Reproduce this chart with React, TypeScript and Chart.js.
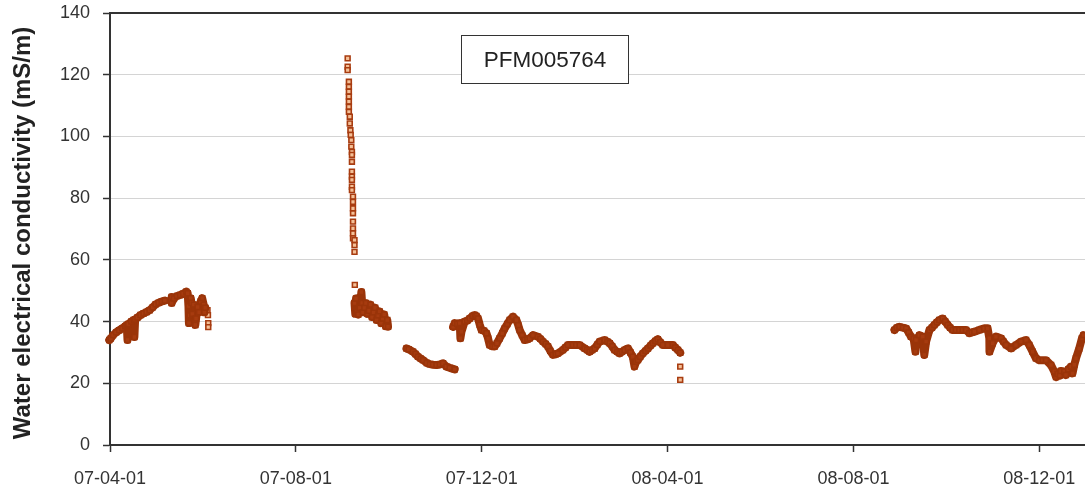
import React, { useEffect, useRef } from 'react';
import { Chart, registerables } from 'chart.js';

Chart.register(...registerables);

// ---- axis ticks (days counted from 07-04-01) ----
const tickDays = [0, 122, 244, 366, 488, 610];
const tickLabels = ['07-04-01', '07-08-01', '07-12-01', '08-04-01', '08-08-01', '08-12-01'];
const xMin = 0;
const xMax = 640;
const yMin = 0;
const yMax = 140;
const yStep = 20;
const yTitle = 'Water electrical conductivity (mS/m)';
const boxTitle = 'PFM005764';

// ---- continuous logger segments ----
const seg1aDays = [-1, -0.5, 0.5, 2, 4, 6, 8, 10, 11, 11.5, 12, 14, 15.5, 16, 16.5, 18, 20, 22, 24, 26, 28, 30, 32, 34, 36];
const seg1aVals = [30.8, 34, 34.5, 35.6, 36.5, 37.2, 37.8, 38.5, 38.9, 34, 39.2, 40, 40.5, 35, 40.7, 41.3, 42.1, 42.6, 43.1, 43.7, 44.6, 45.6, 46.1, 46.5, 46.8];

const seg1bDays = [40.5, 40.5, 42, 44, 46, 48, 50, 51, 51.5, 51.8, 52.3, 53, 53.5, 54, 55, 55.5, 56, 56.5, 57.5, 58.5, 59.5, 60.5, 61.5, 62, 62.5];
const seg1bVals = [48, 46, 47.5, 48.3, 48.6, 49, 49.7, 49.2, 45, 39.5, 42, 47.6, 46, 42.5, 45.5, 40, 38.9, 41, 44.7, 43, 46.5, 47.6, 45.5, 43, 44.5];

const seg2Days = [160.5, 161, 161.5, 162, 163, 164, 165, 165.5, 166, 167, 168, 169, 170, 171, 172, 173, 174, 175, 176, 177, 178, 179, 180, 181, 182, 182.5];
const seg2Vals = [46, 42.5, 47.5, 43, 42.3, 44.5, 49.6, 46, 43, 44.5, 46, 42.5, 43.5, 45.5, 41.5, 43, 44.5, 40.5, 42, 43.3, 39.5, 41, 42.3, 38.5, 40.5, 38.3];

const seg3aDays = [194.6, 196, 198.9, 200.5, 202.2, 204, 205.5, 208, 210, 212, 214.3, 216.5, 218.6, 220.8, 223, 226.3];
const seg3aVals = [31.3, 31, 30.2, 29.5, 28.6, 28, 27.5, 26.6, 26.2, 26, 25.9, 26.1, 26.5, 25.4, 25, 24.5];

const seg3bDays = [225.2, 226.3, 228, 229.6, 230, 230.7, 232.8, 234.5, 236.1, 238, 239.4, 240.5, 241.6, 242.7, 243.8, 245.5, 247.1, 248.2, 249.2, 251, 252.5, 254, 255.8, 257.5, 259.1, 260.8, 262.4, 264.5, 266.8, 268, 268.9, 270.5, 272.2, 274, 275.5, 277.7, 280.9, 282.5, 284.2, 286, 287.5, 289, 290.8, 292.5, 294, 297.3, 299, 300.6, 303.9, 306, 308.3, 311.6, 313.2, 314.8, 316.5, 318.1, 319.8, 321.4, 324.7, 326.5, 328, 329.6, 331.2, 333, 334.5, 336, 337.8, 340, 341.6, 343.2, 344.3, 345.3, 346.5, 348, 349.8, 351.5, 353.1, 354.8, 356.4, 358, 359.6, 361.2, 362.9, 366.2, 369.5, 371, 372.8, 374.3];
const seg3bVals = [38.3, 39.5, 39.3, 39.5, 34.6, 36.7, 40, 40.3, 41, 41.8, 42.1, 41.8, 41, 39, 37.3, 37, 36.2, 34.5, 32.4, 32, 31.9, 33, 34.6, 36.2, 37.8, 39.2, 40.5, 41.6, 40.5, 38.8, 37.3, 35.6, 34, 34.2, 34.6, 35.6, 35.1, 34.4, 33.5, 32.7, 31.9, 30.5, 29.2, 29.4, 29.7, 30.8, 31.6, 32.4, 32.4, 32.4, 32.4, 31.3, 30.8, 30.2, 30.8, 31.3, 32.5, 33.5, 34, 33.5, 33, 32, 30.8, 30.2, 29.7, 30.2, 30.8, 31.3, 30, 28.6, 25.4, 27, 27.5, 28.6, 29.7, 30.5, 31.3, 32.2, 33, 33.7, 34.3, 33.3, 32.4, 32.4, 32.4, 31.6, 30.8, 29.9];

const seg4Days = [514.9, 516.5, 518.2, 520.5, 522.6, 524.2, 525.8, 527.5, 528.7, 529.1, 531.3, 533.5, 534.5, 535.7, 537.9, 539.5, 541.1, 542.8, 544.4, 546.6, 548.2, 549.9, 551.5, 553.1, 555.3, 557.5, 559.7, 561.9, 564.1, 565.7, 567.4, 570.6, 573.9, 576.1, 577.2, 577.3, 579.4, 581.6, 584.9, 586.5, 588.2, 591.5, 594.7, 598, 601.3, 603.4, 605.6, 607.8, 610, 612.2, 614.4, 617.7, 619.8, 621, 622, 623.5, 624.2, 626.4, 627.5, 629, 630.8, 631.8, 633, 634.1, 636.2, 638, 639];
const seg4Vals = [37.3, 38, 38.3, 38, 37.8, 36.5, 35.1, 34.5, 30.2, 34, 35.6, 35.1, 29.2, 33.5, 37.3, 38, 38.9, 39.8, 40.5, 41, 40, 38.9, 38, 37.3, 37.3, 37.3, 37.3, 37.3, 36.2, 36.5, 36.7, 37.3, 37.8, 37.8, 34.6, 30.2, 33, 35.1, 34.6, 33.5, 32.4, 31.3, 32.4, 33.5, 34, 32.4, 30.2, 28.1, 27.5, 27.5, 27.5, 25.9, 23.8, 22, 23, 22.5, 24, 23.8, 22.7, 24.5, 25.4, 23.2, 26, 28.1, 31.3, 34.6, 35.6];

// ---- isolated readings ----
const spikeDays = [156, 156, 156, 156.8, 156.8, 156.8, 156.8, 156.8, 156.8, 156.8, 157.4, 157.4, 157.8, 158, 158.4, 158.4, 158.8, 158.8, 158.8, 158.8, 158.8, 158.8, 158.8, 158.8, 159.5, 159.5, 159.5, 159.5, 159.5, 159.5, 159.5, 159.5, 160.5, 160.5, 160.5, 160.7];
const spikeVals = [125.3, 122.6, 121.5, 117.7, 116.1, 114.5, 112.9, 111.3, 109.6, 108, 106.4, 104.2, 102, 100.5, 98.8, 96.7, 95, 94, 91.8, 88.6, 87, 85.9, 83.7, 82.6, 80.5, 78.8, 76.7, 75.1, 72.4, 70.2, 68.6, 67, 66.4, 64.8, 62.6, 51.9];
const outlierDays = [64, 64.3, 64.5, 64.5, 374.3, 374.3];
const outlierVals = [43.7, 42.1, 39.5, 38.2, 25.4, 21.1];

const pts = (d: number[], v: number[]) => d.map((x, i) => ({ x, y: v[i] }));

const BAND = '#9a3409';
const MARK_EDGE = '#a83c10';
const MARK_FILL = '#f4bf96';
const FONT = "'Liberation Sans', Arial, Helvetica, sans-serif";

const bandSet = (d: number[], v: number[]) => ({
  data: pts(d, v),
  showLine: true,
  borderColor: BAND,
  borderWidth: 8,
  borderJoinStyle: 'round',
  borderCapStyle: 'round',
  pointStyle: 'rect',
  pointRadius: 3.5,
  pointBackgroundColor: '#a63b0f',
  pointBorderColor: BAND,
  pointBorderWidth: 1.5,
  clip: false,
});

const markSet = (d: number[], v: number[]) => ({
  data: pts(d, v),
  showLine: false,
  pointStyle: 'rect',
  pointRadius: 3.4,
  pointBackgroundColor: MARK_FILL,
  pointBorderColor: MARK_EDGE,
  pointBorderWidth: 1.6,
  clip: false,
});

const framePlugin = {
  id: 'frameAndBox',
  afterDraw(chart: any) {
    const { ctx, chartArea } = chart;
    const { left, top, right, bottom } = chartArea;
    ctx.save();
    ctx.strokeStyle = '#333';
    ctx.lineWidth = 2;
    ctx.beginPath();
    ctx.moveTo(left - 1, top);
    ctx.lineTo(right + 5, top);
    ctx.stroke();
    // y-axis title (slightly below the plot centre, as in the original)
    ctx.save();
    ctx.translate(23, (top + bottom) / 2 + 4);
    ctx.rotate(-Math.PI / 2);
    ctx.fillStyle = '#222';
    ctx.font = `bold 24px ${FONT}`;
    ctx.textAlign = 'center';
    ctx.textBaseline = 'middle';
    ctx.fillText(yTitle, 0, 0);
    ctx.restore();
    // title box
    const bx = 461.5, by = 35.5, bw = 167, bh = 48;
    ctx.fillStyle = '#ffffff';
    ctx.fillRect(bx, by, bw, bh);
    ctx.lineWidth = 1;
    ctx.strokeStyle = '#333';
    ctx.strokeRect(bx, by, bw, bh);
    ctx.fillStyle = '#222';
    ctx.font = `22.5px ${FONT}`;
    ctx.textAlign = 'center';
    ctx.textBaseline = 'middle';
    ctx.fillText(boxTitle, bx + bw / 2, by + bh / 2 + 1);
    ctx.restore();
  },
};

export default function App() {
  const ref = useRef<HTMLCanvasElement | null>(null);
  useEffect(() => {
    if (!ref.current) return;
    Chart.defaults.font.family = FONT;
    const chart = new Chart(ref.current, {
      type: 'scatter',
      data: {
        datasets: [
          bandSet(seg1aDays, seg1aVals),
          bandSet(seg1bDays, seg1bVals),
          bandSet(seg2Days, seg2Vals),
          bandSet(seg3aDays, seg3aVals),
          bandSet(seg3bDays, seg3bVals),
          bandSet(seg4Days, seg4Vals),
          markSet(spikeDays, spikeVals),
          markSet(outlierDays, outlierVals),
        ] as any,
      },
      options: {
        animation: false,
        responsive: false,
        layout: { autoPadding: false, padding: { top: 13, right: 0, bottom: 0, left: 0 } },
        plugins: { legend: { display: false }, tooltip: { enabled: false } },
        scales: {
          x: {
            type: 'linear',
            min: xMin,
            max: xMax,
            afterBuildTicks: (s: any) => {
              s.ticks = tickDays.map((v) => ({ value: v }));
            },
            afterFit: (s: any) => {
              s.height = 48;
              s.paddingLeft = 0;
              s.paddingRight = 0;
              s.paddingTop = 0;
              s.paddingBottom = 0;
            },
            ticks: {
              autoSkip: false,
              maxRotation: 0,
              padding: 16,
              color: '#333',
              font: { size: 18, family: FONT },
              callback: (v: any) => {
                const i = tickDays.indexOf(Number(v));
                return i >= 0 ? tickLabels[i] : '';
              },
            },
            grid: {
              drawOnChartArea: false,
              drawTicks: true,
              tickLength: 7,
              tickColor: '#333',
              tickWidth: 1.5,
            },
            border: { color: '#333', width: 2 },
          },
          y: {
            min: yMin,
            max: yMax,
            afterFit: (s: any) => {
              s.width = 110;
              s.paddingLeft = 0;
              s.paddingRight = 0;
              s.paddingTop = 0;
              s.paddingBottom = 0;
            },
            ticks: {
              stepSize: yStep,
              padding: 13,
              color: '#333',
              font: { size: 18, family: FONT },
            },
            grid: {
              color: (c: any) => (c.tick && (c.tick.value === yMin || c.tick.value === yMax) ? 'rgba(0,0,0,0)' : '#d4d4d4'),
              lineWidth: 1,
              drawTicks: true,
              tickLength: 7,
              tickColor: '#333',
              tickWidth: 1.5,
            },
            border: { color: '#333', width: 2 },
            title: { display: false },
          },
        },
      },
      plugins: [framePlugin],
    } as any);
    return () => chart.destroy();
  }, []);
  return (
    <div style={{ position: 'fixed', left: 0, top: 0, width: 1085, height: 493, overflow: 'hidden', background: '#fff' }}>
      <canvas ref={ref} width={1085} height={493} style={{ display: 'block', width: 1085, height: 493 }} />
    </div>
  );
}
